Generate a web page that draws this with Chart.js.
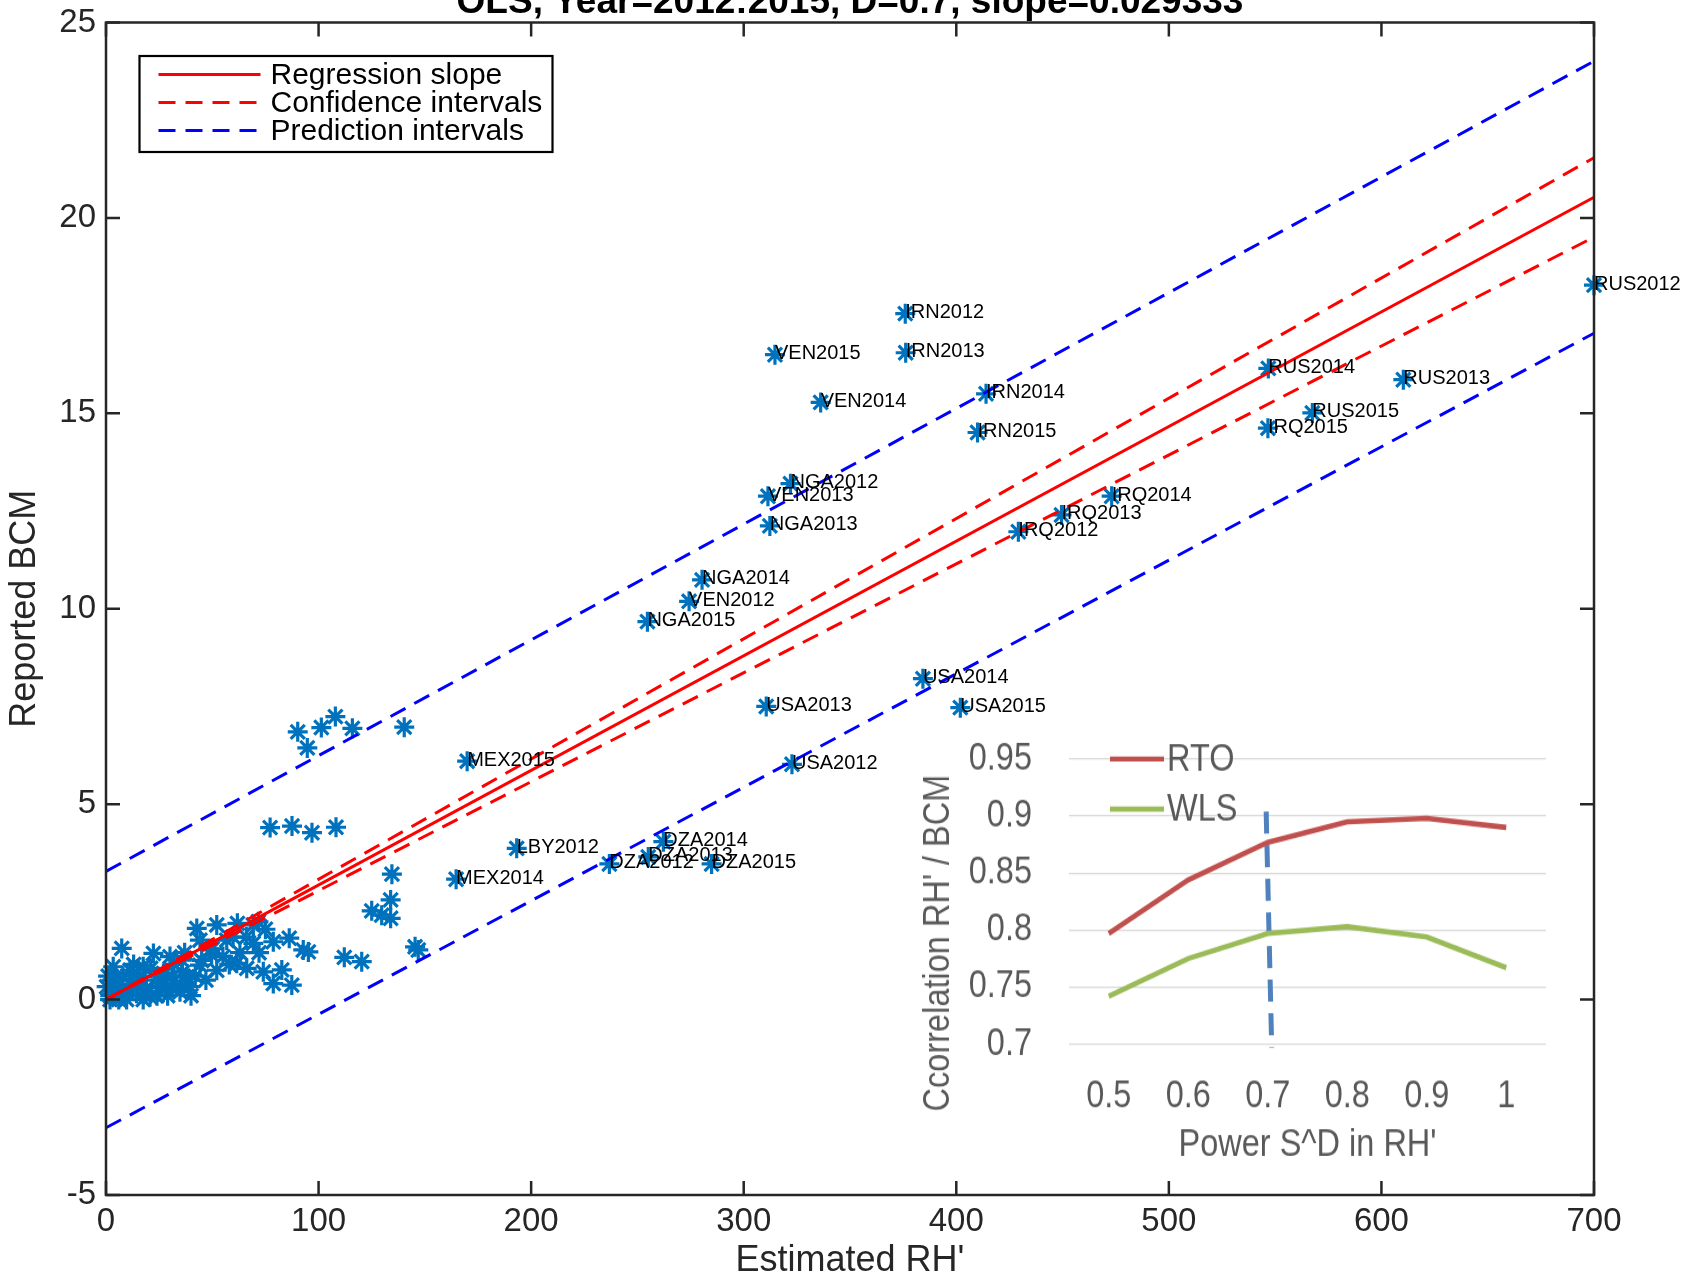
<!DOCTYPE html>
<html><head><meta charset="utf-8">
<script src="https://cdn.jsdelivr.net/npm/chart.js@4.4.1/dist/chart.umd.min.js"></script>
<style>
html,body{margin:0;padding:0;background:#fff;overflow:hidden;}
#wrap{position:relative;width:1681px;height:1279px;}
#main{position:absolute;left:0;top:0;}
#inset{position:absolute;left:900px;top:700px;transform:scaleY(1.16);transform-origin:0 0;}
</style></head><body>
<div id="wrap"><canvas id="main" width="1681" height="1279"></canvas><canvas id="inset" width="680" height="400"></canvas></div>
<script>
// ---------- main chart data ----------
const chartTitle = "OLS, Year=2012:2015, D=0.7, slope=0.029333";
const xTickValues = [0, 100, 200, 300, 400, 500, 600, 700];
const yTickValues = [-5, 0, 5, 10, 15, 20, 25];
const xAxisTitle = "Estimated RH'";
const yAxisTitle = "Reported BCM";
const legendLabels = ["Regression slope", "Confidence intervals", "Prediction intervals"];

const labeledNames = ["IRN2012","VEN2015","IRN2013","VEN2014","IRN2014","IRN2015","RUS2012","RUS2014","RUS2013","RUS2015","IRQ2015","NGA2012","VEN2013","NGA2013","IRQ2014","IRQ2013","IRQ2012","NGA2014","VEN2012","NGA2015","USA2014","USA2013","USA2015","USA2012","MEX2015","LBY2012","MEX2014","DZA2012","DZA2013","DZA2014","DZA2015"];
const labeledX = [376.0,314.7,376.2,336.2,414.0,410.0,700.0,546.8,610.3,567.5,546.6,322.0,311.4,312.3,473.1,449.5,429.2,280.4,274.3,254.7,384.3,310.6,401.9,322.7,169.9,193.2,164.7,236.8,255.1,262.2,284.9];
const labeledY = [17.55,16.50,16.55,15.28,15.50,14.51,18.28,16.15,15.86,15.01,14.62,13.20,12.88,12.12,12.88,12.40,11.97,10.74,10.19,9.67,8.21,7.50,7.47,6.02,6.10,3.87,3.08,3.47,3.65,4.04,3.47];

const otherX = [90.2,94.7,101.3,107.9,115.9,140.3,77.2,87.5,96.9,108.2,
  134.5,133.9,125.0,129.7,133.9,145.4,146.9,112.1,120.3,
  42.7,52.1,61.8,69.3,71.7,78.7,86.2,92.8,95.2,61.5,66.2,74.0,82.7,78.7,87.4,48.9,44.2,52.1,56.8,69.3,44.2,59.8,49.7,
  7.4,22.3,30.1,35.6,3.4,11.3,17.5,27.0,38.0,0.3,6.6,14.4,20.7,28.5,34.8,39.5,1.9,9.7,17.5,23.9,12.8,2.0,4.5,32.0,25.0,
  3.0,5.0,8.0,10.0,13.0,15.0,16.0,19.0,21.0,24.0,26.0,29.0,31.0,33.0,36.0,40.0,42.0,45.0,47.0,50.0,55.0,58.0,63.0,66.0,72.0,75.0,1.0,6.0,18.0,37.0];
const otherY = [6.85,6.44,6.96,7.24,6.94,6.97,4.40,4.44,4.27,4.41,
  3.21,2.55,2.27,2.16,2.08,1.35,1.27,1.08,0.97,
  1.82,1.91,1.95,1.91,1.99,1.48,1.57,1.27,1.22,0.93,0.80,0.71,0.76,0.41,0.37,1.27,0.88,0.75,1.52,1.44,1.52,1.60,1.14,
  1.31,1.18,1.10,1.01,0.84,0.75,0.84,0.67,0.58,0.33,0.24,0.16,0.07,0.33,0.20,0.33,0.00,0.00,0.00,0.50,0.50,0.10,0.50,0.90,0.20,
  0.50,0.20,0.60,0.30,0.90,0.40,0.60,0.30,0.80,0.10,0.50,0.10,0.60,0.40,0.70,0.10,0.60,1.00,0.50,1.30,1.10,0.90,1.20,1.60,1.20,1.80,0.60,0.00,0.20,1.20];

const lineX = [0, 700];
const regressionY = [0, 20.53];
const ciUpperY = [0, 21.54];
const ciLowerY = [0, 19.51];
const piUpperY = [3.28, 24.01];
const piLowerY = [-3.28, 17.05];

// ---------- inset chart data ----------
const insetX = [0.5, 0.6, 0.7, 0.8, 0.9, 1.0];
const insetXLabels = ["0.5", "0.6", "0.7", "0.8", "0.9", "1"];
const insetYTicks = [0.7, 0.75, 0.8, 0.85, 0.9, 0.95];
const insetYLabels = ["0.7", "0.75", "0.8", "0.85", "0.9", "0.95"];
const rtoValues = [0.797, 0.844, 0.877, 0.895, 0.898, 0.890];
const wlsValues = [0.742, 0.775, 0.797, 0.803, 0.794, 0.767];
const markerLineX = [0.698, 0.705];
const markerLineY = [0.904, 0.697];
const insetSeriesNames = ["RTO", "WLS"];
const insetXTitle = "Power S^D in RH'";
const insetYTitle = "Ccorrelation RH' / BCM";

// ---------- helpers ----------
const pts = (xs, ys) => xs.map((x, i) => ({x: x, y: ys[i]}));
const MAIN_FONT = "'Liberation Sans', Arial, Helvetica, sans-serif";
const INSET_FONT = "'Liberation Sans', Arial, sans-serif";
const RED = '#ff0000', BLUE = '#0000ff', MARK = '#0072BD', AXIS = '#262626';

const mainPlugin = {
  id: 'mainDecor',
  afterDatasetsDraw(chart) {
    const ctx = chart.ctx;
    ctx.save();
    ctx.fillStyle = '#000';
    ctx.font = "20px " + MAIN_FONT;
    ctx.textAlign = 'left';
    ctx.textBaseline = 'middle';
    const meta = chart.getDatasetMeta(5);
    meta.data.forEach((el, i) => ctx.fillText(labeledNames[i], el.x, el.y - 1));
    ctx.restore();
  },
  afterDraw(chart) {
    const {ctx, chartArea: a, scales: {x, y}} = chart;
    ctx.save();
    ctx.strokeStyle = AXIS; ctx.lineWidth = 2.5;
    ctx.beginPath();
    xTickValues.forEach(v => {
      const px = x.getPixelForValue(v);
      ctx.moveTo(px, a.bottom); ctx.lineTo(px, a.bottom - 14);
      ctx.moveTo(px, a.top); ctx.lineTo(px, a.top + 14);
    });
    yTickValues.forEach(v => {
      const py = y.getPixelForValue(v);
      ctx.moveTo(a.left, py); ctx.lineTo(a.left + 14, py);
      ctx.moveTo(a.right, py); ctx.lineTo(a.right - 14, py);
    });
    ctx.stroke();
    ctx.strokeRect(a.left, a.top, a.right - a.left, a.bottom - a.top);
    // title (cut at top edge)
    ctx.fillStyle = '#000';
    ctx.font = "bold 37px " + MAIN_FONT;
    ctx.textAlign = 'center';
    ctx.textBaseline = 'alphabetic';
    ctx.fillText(chartTitle, (a.left + a.right) / 2, 13);
    // legend
    const lx = a.left + 33.5, ly = a.top + 33.5, lw = 413, lh = 96;
    ctx.fillStyle = '#fff';
    ctx.fillRect(lx, ly, lw, lh);
    ctx.strokeStyle = '#000'; ctx.lineWidth = 2.2;
    ctx.strokeRect(lx, ly, lw, lh);
    const items = [chart.data.datasets[0], chart.data.datasets[1], chart.data.datasets[3]];
    ctx.font = "30px " + MAIN_FONT;
    ctx.textAlign = 'left';
    ctx.textBaseline = 'middle';
    items.forEach((ds, i) => {
      const yy = ly + 18.5 + i * 28;
      ctx.strokeStyle = ds.borderColor;
      ctx.lineWidth = 3;
      ctx.setLineDash(ds.borderDash || []);
      ctx.beginPath(); ctx.moveTo(lx + 19, yy); ctx.lineTo(lx + 121, yy); ctx.stroke();
      ctx.setLineDash([]);
      ctx.fillStyle = '#000';
      ctx.fillText(legendLabels[i], lx + 131, yy + 1);
    });
    ctx.restore();
  }
};

const lineDs = (label, ys, color, dash) => ({
  type: 'line', label: label, data: pts(lineX, ys), borderColor: color, borderWidth: 3,
  borderDash: dash, pointRadius: 0, showLine: true, fill: false, order: 0, clip: false
});
const markDs = (label, xs, ys) => ({
  label: label, data: pts(xs, ys), pointStyle: 'star', pointRadius: 10,
  pointBorderColor: MARK, pointBorderWidth: 3.2, borderColor: MARK, backgroundColor: MARK,
  showLine: false, order: 1, clip: false
});

new Chart(document.getElementById('main'), {
  type: 'scatter',
  data: {
    datasets: [
      lineDs(legendLabels[0], regressionY, RED, []),
      lineDs(legendLabels[1], ciUpperY, RED, [17, 10]),
      lineDs(legendLabels[1], ciLowerY, RED, [17, 10]),
      lineDs(legendLabels[2], piUpperY, BLUE, [17, 10]),
      lineDs(legendLabels[2], piLowerY, BLUE, [17, 10]),
      markDs('labeled', labeledX, labeledY),
      markDs('other', otherX, otherY)
    ]
  },
  options: {
    responsive: false, animation: false, events: [],
    layout: {padding: {left: 0, right: 87, top: 22.5, bottom: 0}},
    plugins: {legend: {display: false}, tooltip: {enabled: false}, title: {display: false}},
    scales: {
      x: {
        type: 'linear', position: 'bottom', min: 0, max: 700,
        afterBuildTicks: s => { s.ticks = xTickValues.map(v => ({value: v})); },
        afterFit: s => { s.height = 84; },
        grid: {display: false, drawTicks: false, tickLength: 0},
        border: {display: false},
        ticks: {font: {size: 33, family: MAIN_FONT, lineHeight: 1}, color: AXIS, padding: 10, maxRotation: 0, autoSkip: false},
        title: {display: true, text: xAxisTitle, color: AXIS, font: {size: 36, family: MAIN_FONT, lineHeight: 1}, padding: {top: 0, bottom: 0}}
      },
      y: {
        type: 'linear', position: 'left', min: -5, max: 25,
        afterBuildTicks: s => { s.ticks = yTickValues.map(v => ({value: v})); },
        afterFit: s => { s.width = 106; },
        grid: {display: false, drawTicks: false, tickLength: 0},
        border: {display: false},
        ticks: {font: {size: 33, family: MAIN_FONT, lineHeight: 0.5}, color: AXIS, padding: 10, autoSkip: false},
        title: {display: true, text: yAxisTitle, color: AXIS, font: {size: 36, family: MAIN_FONT, lineHeight: 1}, padding: {top: 7, bottom: 0}}
      }
    }
  },
  plugins: [mainPlugin]
});

// ---------- inset (canvas is stretched vertically by 1.16 via CSS) ----------
const insetPlugin = {
  id: 'insetDecor',
  afterDraw(chart) {
    const ctx = chart.ctx;
    ctx.save();
    ctx.fillStyle = '#595959';
    ctx.font = "32.5px " + INSET_FONT;
    ctx.save();
    ctx.translate(39, 209.5);
    ctx.rotate(-Math.PI / 2);
    ctx.scale(1 / 1.16, 1.16);
    ctx.textAlign = 'center'; ctx.textBaseline = 'middle';
    ctx.fillText(insetYTitle, 0, 0);
    ctx.restore();
    const ds = chart.data.datasets;
    [0, 1].forEach(i => {
      const yy = chart.chartArea.top + i * 43.1;
      ctx.strokeStyle = ds[i].borderColor; ctx.lineWidth = 4.4;
      ctx.beginPath(); ctx.moveTo(210, yy); ctx.lineTo(264, yy); ctx.stroke();
      ctx.textAlign = 'left'; ctx.textBaseline = 'middle';
      ctx.fillText(insetSeriesNames[i], 267, yy + 1);
    });
    ctx.restore();
  }
};

new Chart(document.getElementById('inset'), {
  type: 'line',
  data: {
    datasets: [
      {label: insetSeriesNames[0], data: pts(insetX, rtoValues), borderColor: '#c0504d', borderWidth: 4.6, pointRadius: 0, tension: 0, fill: false},
      {label: insetSeriesNames[1], data: pts(insetX, wlsValues), borderColor: '#9bbb59', borderWidth: 4.6, pointRadius: 0, tension: 0, fill: false},
      {label: 'D', data: pts(markerLineX, markerLineY), borderColor: '#4f81bd', borderWidth: 5, borderDash: [19, 10], pointRadius: 0, fill: false, clip: false}
    ]
  },
  options: {
    responsive: false, animation: false, events: [],
    layout: {padding: {left: 0, right: 34, top: 50.9, bottom: 0}},
    plugins: {legend: {display: false}, tooltip: {enabled: false}},
    scales: {
      x: {
        type: 'linear', min: 0.45, max: 1.05,
        afterBuildTicks: s => { s.ticks = insetX.map(v => ({value: v})); },
        afterFit: s => { s.height = 103.4; },
        ticks: {callback: (v, i) => insetXLabels[i], font: {size: 32.5, family: INSET_FONT, lineHeight: 1}, color: '#595959', padding: 29, maxRotation: 0, autoSkip: false},
        grid: {display: false, drawTicks: false, tickLength: 0},
        border: {display: false},
        title: {display: true, text: insetXTitle, color: '#595959', font: {size: 32.5, family: INSET_FONT, lineHeight: 1}, padding: {top: 0, bottom: 0}}
      },
      y: {
        type: 'linear', min: 0.7, max: 0.95,
        afterBuildTicks: s => { s.ticks = insetYTicks.map(v => ({value: v})); },
        afterFit: s => { s.width = 169; },
        ticks: {callback: (v, i) => insetYLabels[i], font: {size: 32.5, family: INSET_FONT, lineHeight: 0.4}, color: '#595959', padding: 37, autoSkip: false},
        grid: {color: '#d9d9d9', lineWidth: 1.3, drawTicks: false, tickLength: 0},
        border: {display: false}
      }
    }
  },
  plugins: [insetPlugin]
});
</script>
</body></html>
